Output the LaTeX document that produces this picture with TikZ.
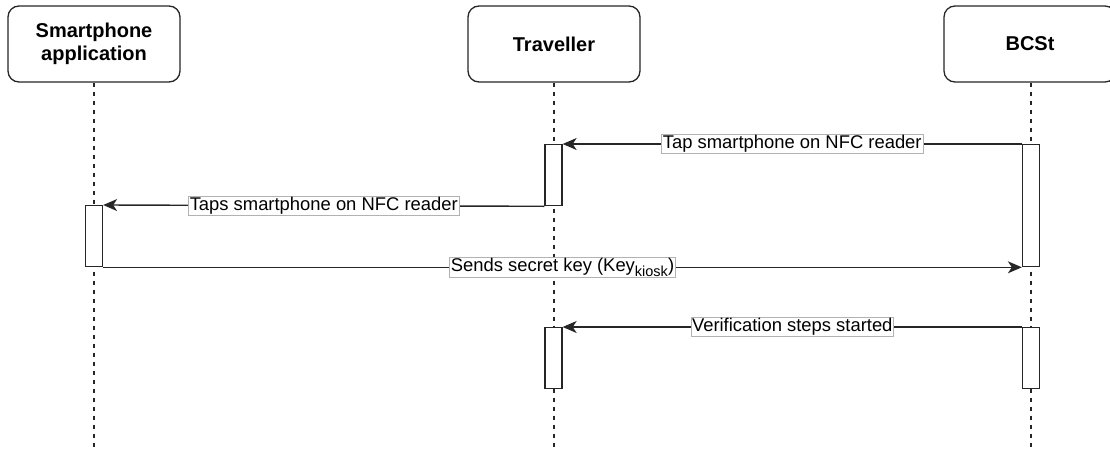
\documentclass[tikz,border=0pt]{standalone}
\usepackage{fontspec}
\setmainfont{Liberation Sans}
\usetikzlibrary{arrows.meta}
\begin{document}
\begin{tikzpicture}[x=1pt,y=-1pt,
  headbox/.style={draw=black!85,line width=1.3pt,rounded corners=11pt,fill=white,
    minimum width=172pt,minimum height=76pt,align=center,
    font=\fontsize{20}{23}\selectfont\bfseries},
  actbox/.style={draw=black!85,line width=1.3pt,fill=white,minimum width=17pt,inner sep=0pt},
  lifeline/.style={draw=black!85,line width=1.3pt,dash pattern=on 4pt off 5pt},
  msg/.style={draw=black!85,line width=1.4pt,-{Stealth[length=14pt,width=12pt,inset=4pt]}},
  msglabel/.style={fill=white,draw=black!30,line width=0.6pt,inner xsep=1.2pt,inner ysep=0.8pt,
    font=\fontsize{18.4}{20}\selectfont}]
\useasboundingbox (0,0) rectangle (1110,450);
% heads
\node[headbox] (sa) at (94,44) {Smartphone\\application};
\node[headbox] (tr) at (554,44) {Traveller};
\node[headbox] (bc) at (1030,44) {BCSt};
% lifeline ends
\coordinate (saend) at (94,450);
\coordinate (trend) at (554,450);
\coordinate (bcend) at (1031,450);
\draw[lifeline] (sa.south) -- (saend);
\draw[lifeline] (tr.south) -- (trend);
\draw[lifeline] (bc.south -| bcend) -- (bcend);
% activation boxes
\node[actbox,minimum height=61pt,anchor=north] (tr1) at (553.5,144) {};
\node[actbox,minimum height=122pt,anchor=north] (bc1) at (1031,144) {};
\node[actbox,minimum height=61pt,anchor=north] (sa1) at (94,205) {};
\node[actbox,minimum height=61pt,anchor=north] (tr2) at (553.5,327) {};
\node[actbox,minimum height=61pt,anchor=north] (bc2) at (1031,327) {};
% messages
\draw[msg] (bc1.north west) -- node[msglabel] {Tap smartphone on NFC reader} (tr1.north east);
\draw[msg] (tr1.south west) -- node[msglabel] {Taps smartphone on NFC reader} (sa1.north east);
\draw[msg] (sa1.south east) -- node[msglabel] {Sends secret key (Key\raisebox{-5pt}{\fontsize{14.5}{15}\selectfont kiosk})} (bc1.south west);
\draw[msg] (bc2.north west) -- node[msglabel] {Verification steps started} (tr2.north east);
\end{tikzpicture}
\end{document}
